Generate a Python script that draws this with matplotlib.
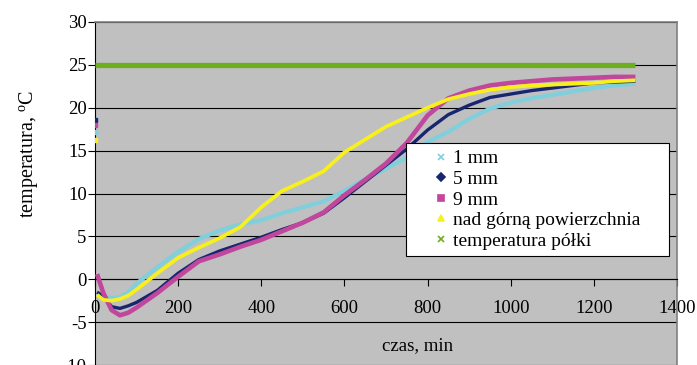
import matplotlib
matplotlib.use("Agg")
import matplotlib.pyplot as plt
from matplotlib.lines import Line2D

plt.rcParams["font.family"] = ["Liberation Serif", "DejaVu Serif"]
plt.rcParams["mathtext.fontset"] = "custom"
plt.rcParams["mathtext.rm"] = "Liberation Serif"
plt.rcParams["axes.unicode_minus"] = False

# czas pomiaru [min]
czas = [5, 20, 40, 60, 80, 100, 150, 200, 250, 300, 350, 400, 450, 500, 550,
        600, 650, 700, 750, 800, 850, 900, 950, 1000, 1050, 1100, 1150, 1200,
        1250, 1300]

t_1mm = [-2.0, -2.1, -2.2, -2.1, -1.5, -0.5, 1.4, 3.2, 4.7, 5.7, 6.4, 6.9, 7.7,
         8.4, 9.1, 10.3, 11.7, 12.9, 14.2, 16.0, 17.2, 18.7, 19.9, 20.6, 21.1,
         21.5, 21.9, 22.3, 22.6, 22.8]
t_5mm = [-1.5, -2.0, -3.2, -3.4, -3.1, -2.7, -1.3, 0.7, 2.3, 3.3, 4.1, 4.9, 5.8,
         6.6, 7.7, 9.5, 11.4, 13.3, 15.2, 17.4, 19.2, 20.3, 21.2, 21.6, 22.0,
         22.3, 22.6, 22.9, 23.0, 23.1]
t_9mm = [0.6, -1.6, -3.6, -4.2, -3.9, -3.3, -1.6, 0.3, 2.1, 2.9, 3.8, 4.6, 5.6,
         6.6, 7.8, 9.8, 11.6, 13.5, 15.9, 19.1, 21.1, 22.0, 22.6, 22.9, 23.1,
         23.3, 23.4, 23.5, 23.6, 23.6]
t_nad = [-1.8, -2.4, -2.5, -2.3, -1.9, -1.2, 0.7, 2.5, 3.7, 4.8, 6.1, 8.4, 10.3,
         11.4, 12.6, 14.8, 16.3, 17.8, 18.9, 20.0, 21.0, 21.6, 22.1, 22.4, 22.6,
         22.7, 22.8, 22.9, 23.1, 23.2]

# pierwszy odczyt (t = 0), przed zaladowaniem
t_start = [17.2, 18.6, 18.0, 16.2]

czas_polki = [0, 1300]
t_polki = [25, 25]

labels = ["1 mm", "5 mm", "9 mm", "nad górną powierzchnia", "temperatura półki"]
colors = ["#7fcfdc", "#17266e", "#c0479b", "#f7f01a", "#6cae1e"]
markers = ["x", "D", "s", "^", "x"]


def main():
    fig = plt.figure(figsize=(6.97, 3.65), dpi=100)
    ax = fig.add_axes([95 / 697, 0.0, 582 / 697, 343 / 365])
    ax.set_facecolor("#c0c0c0")

    series = [t_1mm, t_5mm, t_9mm, t_nad]
    widths = [3.0, 2.4, 3.3, 2.7]
    for i, ys in enumerate(series):
        ax.plot(czas, ys, color=colors[i], lw=widths[i], zorder=3,
                solid_capstyle="butt")
        ax.plot([0], [t_start[i]], ls="none", marker="s", ms=3,
                color=colors[i], zorder=3)
    ax.plot(czas_polki, t_polki, color=colors[4], lw=3.8, zorder=3,
            solid_capstyle="butt")

    ax.set_xlim(0, 1400)
    ax.set_ylim(-10, 30)
    ax.set_xticks(range(0, 1401, 200))
    ax.set_yticks(range(-10, 31, 5))
    ax.yaxis.grid(True, color="black", lw=0.8)
    ax.set_axisbelow(True)

    ax.spines["bottom"].set_position(("data", 0))
    ax.spines["bottom"].set_zorder(2.5)
    ax.spines["left"].set_color("black")
    for s in ("top", "right"):
        ax.spines[s].set_color("#808080")
        ax.spines[s].set_linewidth(1.2)
    ax.tick_params(axis="x", direction="out", length=5, width=0.8, pad=10,
                   labelsize=13.5)
    ax.tick_params(axis="y", direction="out", length=5, width=0.8, pad=1,
                   labelsize=13.5)

    fig.text(29 / 697, 1 - 154 / 365, r"temperatura, $^\mathrm{o}$C",
             rotation=90, ha="center", va="center", fontsize=14.5)
    fig.text(418 / 697, 1 - 346 / 365, "czas, min", ha="center",
             va="center", fontsize=13.5)

    handles = [Line2D([], [], ls="none", marker=markers[i], color=colors[i],
                      ms=4 if i < 4 else 5, mew=1.2) for i in range(5)]
    leg = ax.legend(handles, labels, loc="upper left", mode="expand",
                    bbox_to_anchor=(0.534, 0.318, 0.452, 0.329),
                    fontsize=14, frameon=True, fancybox=False, shadow=False,
                    borderpad=0.35, labelspacing=0.15, handlelength=2.9,
                    handletextpad=-0.8, borderaxespad=0)
    leg.get_frame().set_edgecolor("black")
    leg.get_frame().set_linewidth(0.8)
    leg.get_frame().set_facecolor("white")
    leg.get_frame().set_alpha(1)
    leg.set_zorder(5)

    fig.savefig("out.png", dpi=100)
    plt.close(fig)


if __name__ == "__main__":
    main()
